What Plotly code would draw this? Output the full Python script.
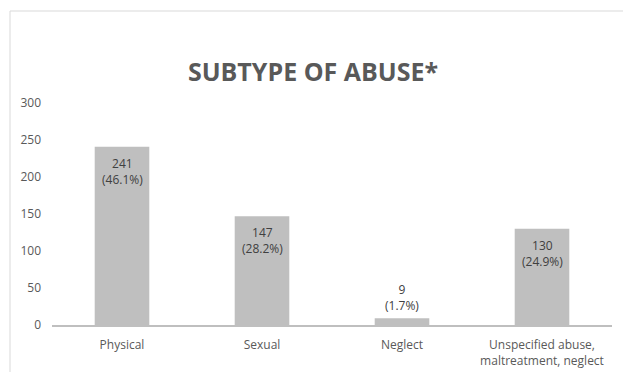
import plotly.graph_objects as go

categories = ["Physical", "Sexual", "Neglect", "Unspecified abuse,<br>maltreatment, neglect"]
counts = [241, 147, 9, 130]
percents = ["46.1%", "28.2%", "1.7%", "24.9%"]
y_ticks = [0, 50, 100, 150, 200, 250, 300]

labels = [f"{c}<br>({p})" for c, p in zip(counts, percents)]
inside = [True, True, False, True]

fig = go.Figure(go.Bar(
    x=categories, y=counts,
    marker=dict(color="#bfbfbf", line=dict(width=0)),
    width=0.39, hoverinfo="skip",
))

for cat, val, lab, ins in zip(categories, counts, labels, inside):
    fig.add_annotation(x=cat, y=val, text=lab, showarrow=False,
                       yanchor="top" if ins else "bottom",
                       yshift=-6 if ins else 2,
                       font=dict(family="Open Sans", size=12, color="#404040"))

W, H = 623, 372
L, R, T, B = 52, 11, 103, 47
pw, ph = W - L - R, H - T - B

def px_x(x):
    return (x - L) / pw

def px_y(y):
    return (H - B - y) / ph

fig.add_shape(type="rect", xref="paper", yref="paper",
              x0=px_x(10), x1=px_x(640), y0=px_y(400), y1=px_y(11),
              line=dict(color="#d9d9d9", width=1), layer="below")

fig.update_layout(
    width=W, height=H, margin=dict(l=L, r=R, t=T, b=B, autoexpand=False),
    paper_bgcolor="white", plot_bgcolor="white",
    title=dict(text="<b>SUBTYPE OF ABUSE*</b>", xref="container", x=313 / W,
               xanchor="center", yref="container", y=1 - 72 / H, yanchor="middle",
               font=dict(family="Open Sans", size=25, color="#595959")),
    showlegend=False,
    font=dict(family="Open Sans", size=12, color="#595959"),
)
fig.update_xaxes(showline=True, linecolor="#bfbfbf", linewidth=2, showgrid=False,
                 automargin=False,
                 ticks="", ticklabelstandoff=8, tickfont=dict(size=12, color="#595959"))
fig.update_yaxes(range=[0, 300], tickvals=y_ticks, showgrid=False, zeroline=False,
                 showline=False, ticks="", ticklabelstandoff=10, automargin=False,
                 tickfont=dict(size=12, color="#595959"))

fig.write_html("out.html")
